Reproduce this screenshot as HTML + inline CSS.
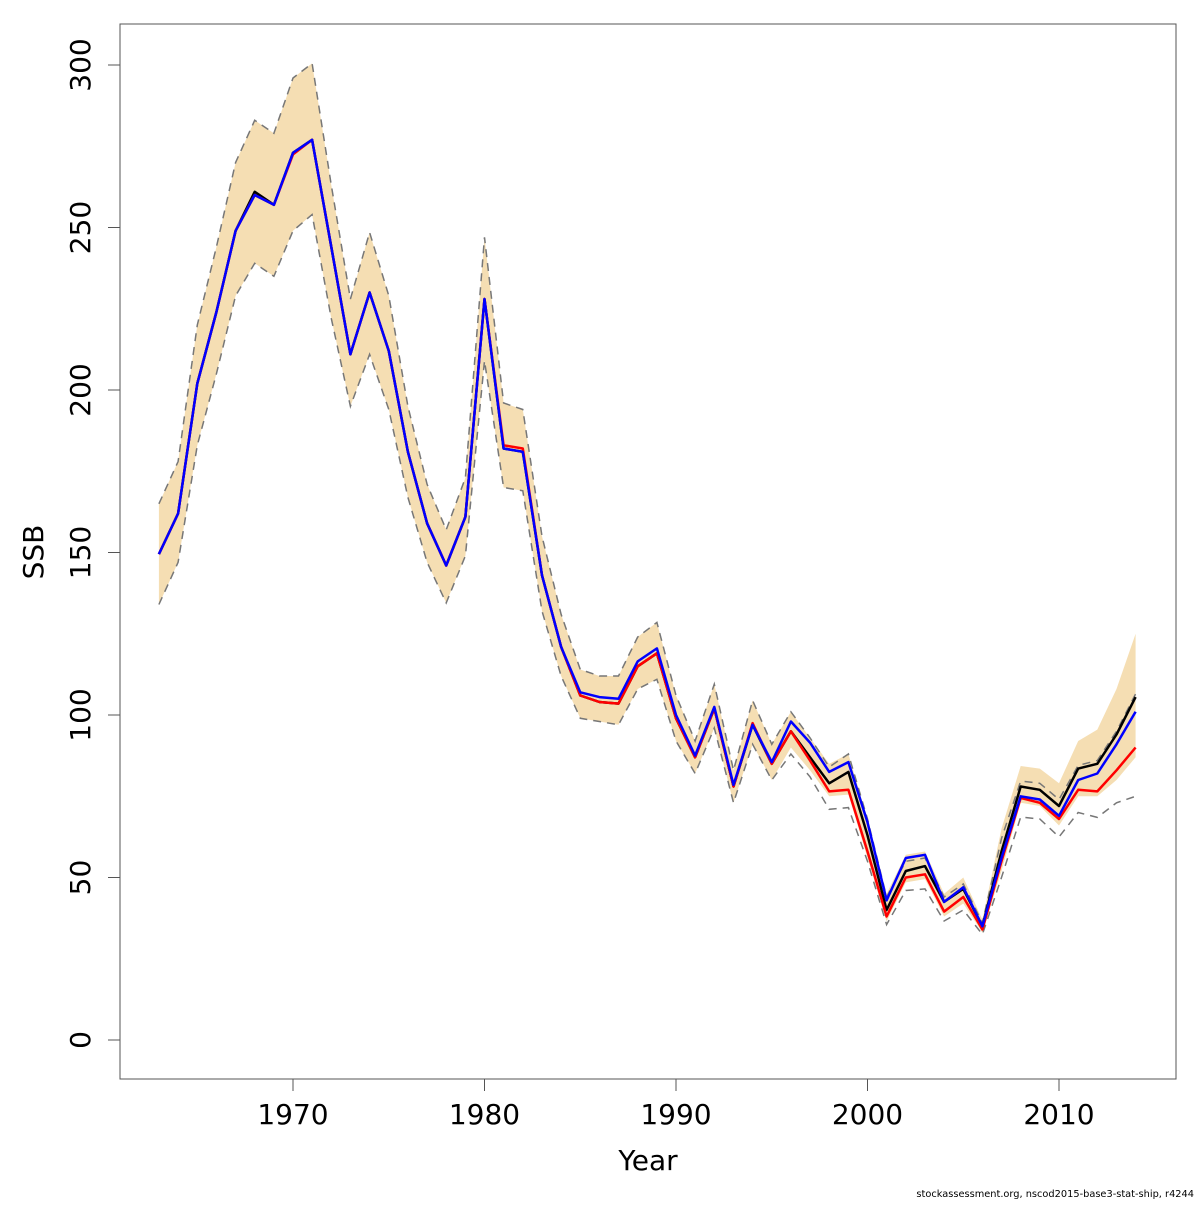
<!DOCTYPE html>
<html><head><meta charset="utf-8"><style>
body{margin:0;background:#fff}
svg text{font-family:"DejaVu Sans","Liberation Sans",sans-serif}
</style></head><body>
<svg id="chart" width="1200" height="1200" xmlns="http://www.w3.org/2000/svg">
<rect width="1200" height="1200" fill="#fff"/>
<g id="plot"></g>
<rect x="120" y="24" width="1056" height="1055" fill="none" stroke="#555" stroke-width="1"/>
<g id="axes"></g>
<text x="648" y="1170" font-size="28" text-anchor="middle">Year</text>
<text x="0" y="0" font-size="28" text-anchor="middle" transform="translate(43,552) rotate(-90)">SSB</text>
<text x="1194" y="1197" font-size="9.8" text-anchor="end">stockassessment.org, nscod2015-base3-stat-ship, r4244</text>
</svg>
<script>
const years=[];for(let y=1963;y<=2014;y++)years.push(y);
const ssbBlack=[149.5,162,202,224,249,261,257,273,277,244,211,230,212,181,159,146,161,228,182,181,143,121,106,104,103.5,115,119,99,87,102,78,97,85,95,87,79,82.5,63,40,52,53.5,42.5,46.5,35,58,78,77,72,83.5,85,94,105.5];
const ssbBlue=[149.5,162,202,224,249,260,257,273,277,244,211,230,212,181,159,146,161,228,182,181,143,121,107,105.5,105,116.5,120.5,100,87.5,102.5,78.5,97,85.5,98,91.5,82.5,85.5,67,43,56,57,42.5,47,35,56,75,74,69,80,82,91,101];
const ssbRed=[149.5,162,202,224,249,260,257,272.5,277,244,211,230,212,181,159,146,161,228,183,182,143,121,106,104,103.5,115,119,99,87,102,78,97.5,85,95,86,76.5,77,58,38,50,51,39.5,44,34,55,74.5,73,68,77,76.5,83,90];
const fillUpper=[165,178,220,244,270,283,279,296,300.5,263,228,248.5,229,195,171,157,173,247,196,194,155,131,114,112,112,124,128.5,106,92,109.5,83,104.5,91,101,93,85,88,68,45,57,58,45,50,37,65,84.3,83.5,79,92,95.5,108,125];
const fillLower=[134,147,183,205,229,239,235,249,254,222,195,211,194,167,147,134.5,149,209,170,169,132,112,99,98,97,108,111,92,82,96,73,91,80,90,83,75,75.5,56,36.5,48.5,49.5,38,42,33,52,73,72,66,75,75,80,87];
const dashUpper=[165,178,220,244,270,283,279,296,300.5,263,228,248.5,229,195,171,157,173,247,196,194,155,131,114,112,112,124,128.5,106,92,109.5,83,104.5,91,101,93,84,88,68,44,55,56,44,48,36,62,79.7,79,74,84.5,86,95,106.5];
const dashLower=[134,147,183,205,229,239,235,249,254,222,195,211,194,167,147,134.5,149,209,170,169,132,112,99,98,97,108,111,92,82,96,73,91,80,88,81,71,71.5,55,35.5,46,46.5,36.6,40,32.5,50,68.6,68,62.5,70,68.5,73,75];
const xTicks=[1970,1980,1990,2000,2010];
const yTicks=[0,50,100,150,200,250,300];
const X=y=>293+(y-1970)*(1059-293)/40;
const Y=v=>1040-v*3.25;
const NS='http://www.w3.org/2000/svg';
const plot=document.getElementById('plot'),axes=document.getElementById('axes');
function mk(tag,attrs,parent){const e=document.createElementNS(NS,tag);for(const k in attrs)e.setAttribute(k,attrs[k]);parent.appendChild(e);return e;}
function pts(arr){return arr.map((v,i)=>X(years[i]).toFixed(1)+','+Y(v).toFixed(1)).join(' ');}
const band=mk('polygon',{points:pts(fillUpper)+' '+fillLower.map((v,i)=>X(years[i]).toFixed(1)+','+Y(v).toFixed(1)).reverse().join(' '),fill:'#f5deb3'},plot);


const du=mk('polyline',{points:pts(dashUpper),fill:'none',stroke:'#777','stroke-width':1.5,'stroke-dasharray':'8,6'},plot);


const dl=mk('polyline',{points:pts(dashLower),fill:'none',stroke:'#777','stroke-width':1.5,'stroke-dasharray':'8,6'},plot);


const lb=mk('polyline',{points:pts(ssbBlack),fill:'none',stroke:'#000','stroke-width':2.5,'stroke-linejoin':'round'},plot);


const lr=mk('polyline',{points:pts(ssbRed),fill:'none',stroke:'#f00','stroke-width':2.5,'stroke-linejoin':'round'},plot);


const lbl=mk('polyline',{points:pts(ssbBlue),fill:'none',stroke:'#00f','stroke-width':2.5,'stroke-linejoin':'round'},plot);


xTicks.forEach(t=>{
 const l=mk('line',{x1:X(t),x2:X(t),y1:1079,y2:1091,stroke:'#555'},axes);
 
 
 const tx=mk('text',{x:X(t),y:1124,'font-size':28,'text-anchor':'middle'},axes);tx.textContent=t;
 
 
});
yTicks.forEach(t=>{
 const l=mk('line',{x1:108,x2:120,y1:Y(t),y2:Y(t),stroke:'#555'},axes);
 
 
 const tx=mk('text',{x:0,y:0,'font-size':28,'text-anchor':'middle',transform:`translate(90,${Y(t)}) rotate(-90)`},axes);tx.textContent=t;
 
 
});
</script>
</body></html>
